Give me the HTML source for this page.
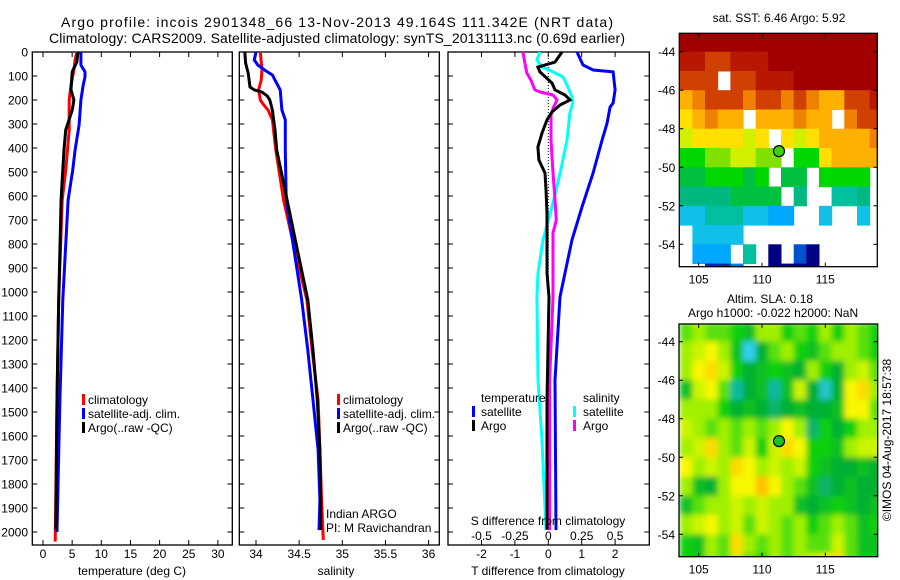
<!DOCTYPE html>
<html><head><meta charset="utf-8"><style>
body{margin:0;background:#fff}
svg{display:block;font-family:"Liberation Sans",sans-serif}
text{fill:#000}
</style></head><body>
<svg id="c" width="900" height="580" viewBox="0 0 900 580">
<defs>
<clipPath id="clipTop"><rect x="679.3" y="33.3" width="198" height="233.4"/></clipPath>
<clipPath id="clipBot"><rect x="679" y="324" width="198.7" height="232.7"/></clipPath>
<filter id="blur" x="-10%" y="-10%" width="120%" height="120%"><feGaussianBlur stdDeviation="3"/></filter>
</defs>
<text x="61" y="27" font-size="14" textLength="552">Argo profile: incois 2901348_66 13-Nov-2013 49.164S 111.342E (NRT data)</text>
<text x="49" y="43" font-size="14" textLength="576">Climatology: CARS2009. Satellite-adjusted climatology: synTS_20131113.nc (0.69d earlier)</text>
<g id="plots"></g>
</svg>
<script>
// ---------- data ----------
const tClimDepth = [0,33,75,138,200,325,492,617,1033,1450,2040];
const tClimVal   = [5.8,5.5,5.3,4.8,4.5,4.5,3.9,3.3,2.7,2.4,2.1];
const tSatDepth  = [0,54,83,104,138,200,304,408,492,617,1033,1450,2000];
const tSatVal    = [6.5,6.5,7.2,7.2,6.9,6.5,6.2,5.5,5.1,4.3,3.4,2.9,2.4];
const tArgoDepth = [0,42,67,83,158,200,242,325,408,533,617,1033,1450,1990];
const tArgoVal   = [6.0,5.8,5.3,5.0,4.8,5.3,5.0,3.9,3.6,3.3,3.1,2.7,2.4,2.2];
const sClimDepth = [0,75,117,158,200,221,242,283,408,617,825,1033,1242,1450,1658,1867,2033];
const sClimVal   = [34.05,34.07,34.06,34.03,34.05,34.09,34.14,34.19,34.23,34.32,34.45,34.59,34.65,34.72,34.74,34.76,34.78];
const sSatDepth  = [0,33,54,75,96,117,158,242,283,408,617,825,1033,1242,1450,1658,1867,1992];
const sSatVal    = [34.00,33.98,34.02,34.10,34.19,34.22,34.28,34.30,34.34,34.34,34.35,34.44,34.53,34.60,34.66,34.72,34.74,34.73];
const sArgoDepth = [0,46,88,146,158,167,183,200,242,325,408,617,825,1033,1242,1450,1658,1867,1992];
const sArgoVal   = [33.87,33.88,33.91,33.93,33.98,34.07,34.13,34.16,34.19,34.22,34.24,34.36,34.48,34.60,34.66,34.71,34.74,34.75,34.75];
const dTSatDepth  = [0,54,75,83,158,213,229,296,367,504,646,783,921,1021,1367,1992];
const dTSatVal    = [0.86,1.04,1.34,1.94,2.0,1.94,1.85,1.76,1.61,1.34,1.01,0.71,0.5,0.35,0.2,0.23];
const dTArgoDepth = [0,42,63,83,129,158,179,200,221,250,283,338,396,450,504,575,671,783,921,1021,1450,1990];
const dTArgoVal   = [0.41,0.2,-0.31,-0.25,0.11,0.2,0.5,0.65,0.35,0.11,-0.04,-0.19,-0.31,-0.28,-0.1,-0.07,-0.04,-0.04,-0.04,0.02,-0.04,-0.04];
const dSSatDepth  = [0,33,63,83,104,146,188,208,254,367,504,646,783,921,1021,1367,1617,1992];
const dSSatVal    = [-0.062,-0.085,-0.047,0.035,0.11,0.147,0.177,0.185,0.162,0.14,0.088,0.028,-0.04,-0.077,-0.085,-0.077,-0.047,-0.017];
const dSArgoDepth = [0,63,88,117,158,167,179,200,229,263,367,504,617,700,754,1021,1367,1992];
const dSArgoVal   = [-0.19,-0.17,-0.16,-0.13,-0.10,-0.06,0.035,0.065,0.04,0.02,0.02,0.035,0.05,0.06,0.035,0.035,0.01,0.01];
const depthTicks = [0,100,200,300,400,500,600,700,800,900,1000,1100,1200,1300,1400,1500,1600,1700,1800,1900,2000];
const tempTicks = [0,5,10,15,20,25,30];
const salTicks = [34,34.5,35,35.5,36];
const dTTicks = [-2,-1,0,1,2];
const dSTickLabels = ["-0.5","-0.25","0","0.25","0.5"];
const dSTicks = [-0.5,-0.25,0,0.25,0.5];
const sstLats = [-43,-44,-45,-46,-47,-48,-49,-50,-51,-52,-53,-54,-55];
const sstLons = [103.5,104.5,105.5,106.5,107.5,108.5,109.5,110.5,111.5,112.5,113.5,114.5,115.5,116.5,117.5,118.5];
const sstGrid = [
[10,10,10,10,10,10,10,10,10,10,10,10,10,10,10,10],
[9.5,9.5,9,9,9.5,9.5,9.5,10,10,10,10,10,10,10,10,10],
[9,9,9,null,9,9,9.5,9.5,9.5,10,10,10,10,10,10,10],
[8,8.5,9,9,9,8.5,9,9,8.5,9,8.5,8,8,9,9,9.5],
[7.5,8,8.5,8,8,null,8,8,8,8.5,8,8,null,8.5,9,9],
[7,7.5,7.5,7.5,7.5,7,7.5,null,7.5,7,7.5,8,8,8,8,8.5],
[6,6,6.5,6.5,7,7,6.5,6.5,null,6,6,7.5,8,8,8,8],
[5.5,5.5,6,6,6,5.5,6,null,5.5,5.5,null,6,6,6,6,null],
[5,5,5,5,5.5,5.5,5.5,5.5,null,5,null,null,4.5,4.5,5,null],
[4,4,4.5,4.5,4.5,4,4,3.5,3.5,null,null,4,null,null,4,null],
[null,4,4,4,4,null,null,null,null,null,null,null,null,null,null,null],
[null,3.5,3.5,3.5,null,4.5,null,1.5,null,2.5,1.5,null,null,null,null,null],
[null,null,2,2,3,null,null,1.5,1.5,1.5,1.5,null,null,null,null,null]];
const slaLats = [-43,-44,-45,-46,-47,-48,-49,-50,-51,-52,-53,-54,-55];
const slaLons = [103.5,104.5,105.5,106.5,107.5,108.5,109.5,110.5,111.5,112.5,113.5,114.5,115.5,116.5,117.5,118.5];
const slaGrid = [
[0.05,0.1,0.05,0.05,0,-0.05,0.1,0.1,0,0.05,0,0.1,0,0.1,0.05,0],
[0.1,0.15,0.2,0.1,-0.05,-0.3,-0.1,0.05,0.1,0,-0.05,0.05,0.1,0.1,0.05,0],
[0.1,0.2,0.25,0.15,0,-0.1,-0.05,0,-0.05,-0.1,0.1,0,-0.1,0.1,0.15,0.05],
[-0.05,0.15,0.2,0.05,-0.2,-0.1,-0.05,-0.2,-0.05,0.15,-0.1,-0.25,-0.1,0.2,0.25,0.1],
[0.1,0.1,0.1,0,-0.1,-0.05,-0.1,-0.15,-0.1,-0.05,-0.1,-0.1,-0.05,0.2,0.2,0.05],
[0.15,0.1,0.05,0.1,0.05,0.1,0.05,0.1,0.2,0.1,-0.15,0,-0.1,0,0.1,0.1],
[0.1,0.15,0.25,0.1,0.05,0.15,0,0.15,0.25,0.2,0,0,-0.05,0.1,0.15,0.15],
[0.2,0.1,0.15,0.1,0.25,0.2,0.1,0.15,0.1,0.15,0,-0.05,-0.1,-0.1,-0.05,-0.1],
[0.1,-0.05,-0.1,0.1,0.2,0.2,0.3,0.2,0.1,0.05,-0.05,-0.15,-0.1,-0.05,-0.1,-0.1],
[-0.05,0.05,0.1,0.1,0.15,0.1,0.15,0.1,0.1,-0.05,-0.1,-0.05,0,-0.05,-0.1,-0.05],
[0.1,0.15,0.2,0.1,0.15,0.05,0.15,0.1,0.05,0.1,0,0.05,0.1,0.05,-0.05,0],
[0,-0.05,0.1,0.05,0.25,0.1,0.05,0.1,0.05,0.1,0.05,0.05,0.15,0.05,-0.05,-0.05],
[0,0,0.1,0.05,0.15,0.05,0,0.1,0.05,0.1,0.15,0.2,0.25,0.05,0,0]];
const argoLon = 111.342, argoLat = -49.164;
const mapLonTicks = [105,110,115];
const mapLatTicks = [-44,-46,-48,-50,-52,-54];

// ---------- helpers ----------
const NS = "http://www.w3.org/2000/svg";
const root = document.getElementById('plots');
function mk(tag, attrs, parent){const e=document.createElementNS(NS,tag);for(const k in attrs)e.setAttribute(k,attrs[k]);(parent||root).appendChild(e);return e;}
const yD = d => 52 + d*0.24;
const xT = t => 43 + t*5.83;
const xS = s => 256 + (s-34)*86.3;
const xDT = t => 548.3 + t*33.4;
const xDS = s => 548.3 + s*133.6;
function line(depths, vals, xf, color, name){
  const pts = depths.map((d,i)=>xf(vals[i]).toFixed(1)+","+yD(d).toFixed(1)).join(" ");
  const p = mk('polyline',{points:pts,fill:'none',stroke:color,'stroke-width':3,'stroke-linejoin':'miter'});
  
  
}
function txt(x,y,s,size,anchor,name){
  const t = mk('text',{x:x,y:y,'font-size':size||12,'text-anchor':anchor||'start'});
  t.textContent = s;
  
  
  return t;
}
function panel(x0,x1,y0,y1,name){
  const r = mk('rect',{x:x0,y:y0,width:x1-x0,height:y1-y0,fill:'none',stroke:'#000','stroke-width':1.3});
  
  
  depthTicks.forEach(d=>{
    mk('line',{x1:x0,x2:x0+5,y1:yD(d),y2:yD(d),stroke:'#000'});
    mk('line',{x1:x1,x2:x1-5,y1:yD(d),y2:yD(d),stroke:'#000'});
  });
}
function xticks(vals,xf,y0,y1){
  vals.forEach(v=>{
    mk('line',{x1:xf(v),x2:xf(v),y1:y0,y2:y0+5,stroke:'#000'});
    mk('line',{x1:xf(v),x2:xf(v),y1:y1,y2:y1-5,stroke:'#000'});
  });
}
function legendBar(x,y,color,name){
  const r = mk('rect',{x:x,y:y-10,width:3,height:11,fill:color});
  
  
}

// ---------- panel 1 ----------
panel(32.3,232.3,52,545,'temperature-panel');
xticks(tempTicks,xT,52,545);
depthTicks.forEach(d=>txt(28,yD(d)+4.5,String(d),12,'end','depth-tick-label'));
tempTicks.forEach(t=>txt(xT(t),558,String(t),12,'middle','temperature-tick-label'));
txt(132,575,'temperature (deg C)',12,'middle','temperature-axis-title');
line(tClimDepth,tClimVal,xT,'#f00','temp-climatology-line');
line(tSatDepth,tSatVal,xT,'#00f','temp-satellite-line');
line(tArgoDepth,tArgoVal,xT,'#000','temp-argo-line');
legendBar(82,404,'#f00','legend-climatology-swatch'); txt(88,404,'climatology',12,'start','legend-climatology');
legendBar(82,418,'#00f','legend-satellite-swatch'); txt(88,418,'satellite-adj. clim.',12,'start','legend-satellite');
legendBar(82,432,'#000','legend-argo-swatch'); txt(88,432,'Argo(..raw -QC)',12,'start','legend-argo');

// ---------- panel 2 ----------
panel(239.3,439.3,52,545,'salinity-panel');
xticks(salTicks,xS,52,545);
salTicks.forEach(s=>txt(xS(s),558,String(s),12,'middle','salinity-tick-label'));
txt(336,575,'salinity',12,'middle','salinity-axis-title');
line(sClimDepth,sClimVal,xS,'#f00','sal-climatology-line');
line(sSatDepth,sSatVal,xS,'#00f','sal-satellite-line');
line(sArgoDepth,sArgoVal,xS,'#000','sal-argo-line');
legendBar(337,404,'#f00','legend2-climatology-swatch'); txt(343,404,'climatology',12,'start','legend2-climatology');
legendBar(337,418,'#00f','legend2-satellite-swatch'); txt(343,418,'satellite-adj. clim.',12,'start','legend2-satellite');
legendBar(337,432,'#000','legend2-argo-swatch'); txt(343,432,'Argo(..raw -QC)',12,'start','legend2-argo');
txt(326,518,'Indian ARGO',12,'start','institution-label');
txt(326,532,'PI: M Ravichandran',12,'start','pi-label');

// ---------- panel 3 ----------
panel(448,649.3,52,545,'difference-panel');
xticks(dTTicks,xDT,52,545);
const zl = mk('line',{x1:548.3,x2:548.3,y1:52,y2:yD(2000),stroke:'#000','stroke-dasharray':'1,2'});


line(dSSatDepth,dSSatVal,xDS,'#0ff','sal-diff-satellite-line');
line(dSArgoDepth,dSArgoVal,xDS,'#f0f','sal-diff-argo-line');
line(dTArgoDepth,dTArgoVal,xDT,'#000','temp-diff-argo-line');
line(dTSatDepth,dTSatVal,xDT,'#00f','temp-diff-satellite-line');
dTTicks.forEach(t=>txt(xDT(t),558,String(t),12,'middle','t-diff-tick-label'));
dSTicks.forEach((s,i)=>txt(xDS(s),540,dSTickLabels[i],12,'middle','s-diff-tick-label'));
txt(548,525,'S difference from climatology',12,'middle','s-diff-axis-title');
txt(548,575,'T difference from climatology',12,'middle','t-diff-axis-title');
txt(481,402,'temperature',12,'start','legend3-temperature-heading');
txt(583,402,'salinity',12,'start','legend3-salinity-heading');
legendBar(472,416,'#00f','legend3-tsat-swatch'); txt(481,416,'satellite',12,'start','legend3-tsat');
legendBar(472,430,'#000','legend3-targo-swatch'); txt(481,430,'Argo',12,'start','legend3-targo');
legendBar(573,416,'#0ff','legend3-ssat-swatch'); txt(583,416,'satellite',12,'start','legend3-ssat');
legendBar(573,430,'#f0f','legend3-sargo-swatch'); txt(583,430,'Argo',12,'start','legend3-sargo');

// ---------- maps ----------
function hex(h){return [parseInt(h.substr(1,2),16),parseInt(h.substr(3,2),16),parseInt(h.substr(5,2),16)];}
function colorOf(stops,v){
  let c;
  if(v<=stops[0][0]) c=stops[0][1];
  else if(v>=stops[stops.length-1][0]) c=stops[stops.length-1][1];
  else for(let i=1;i<stops.length;i++){
    if(v<=stops[i][0]){
      const a=stops[i-1],b=stops[i],f=(v-a[0])/(b[0]-a[0]);
      c=a[1].map((x,k)=>Math.round(x+(b[1][k]-x)*f));
      break;
    }
  }
  return 'rgb('+c.join(',')+')';
}
const sstStops=[[1.5,'#000080'],[2.5,'#0050d0'],[3.5,'#00a8ff'],[4,'#10c0e8'],[4.5,'#00c0a0'],[5,'#00b880'],[5.5,'#00c040'],[6,'#00d800'],[6.5,'#80e000'],[7,'#d0f000'],[7.5,'#ffe000'],[8,'#ffb000'],[8.5,'#f08000'],[9,'#d04000'],[9.5,'#b81800'],[10,'#a00000']].map(s=>[s[0],hex(s[1])]);
const slaStops=[[-0.3,'#30d0f0'],[-0.2,'#10b8a0'],[-0.1,'#00b030'],[0,'#10d010'],[0.1,'#a0f000'],[0.2,'#f8f800'],[0.3,'#ffc000']].map(s=>[s[0],hex(s[1])]);
function drawMap(opt){
  const xL = lon => opt.x105 + (lon-105)*12.66;
  const yL = lat => opt.y44 + (-44-lat)*19.26;
  const g = mk('g',{'clip-path':'url(#'+opt.clip+')'});
  
  
  const inner = opt.blur ? mk('g',{filter:'url(#blur)'},g) : g;
  opt.grid.forEach((row,i)=>row.forEach((v,j)=>{
    if(v===null) return;
    const x0=xL(opt.lons[j]), y0=yL(opt.lats[i]);
    const r = mk('rect',{x:x0.toFixed(1),y:y0.toFixed(1),width:(12.66+0.5).toFixed(1),height:(19.26+0.5).toFixed(1),fill:colorOf(opt.stops,v)},inner);
    
    
  }));
  const b = mk('rect',{x:opt.x0,y:opt.y0,width:opt.x1-opt.x0,height:opt.y1-opt.y0,fill:'none',stroke:'#000','stroke-width':1.3});
  
  
  mapLonTicks.forEach(l=>{
    mk('line',{x1:xL(l),x2:xL(l),y1:opt.y0,y2:opt.y0+4,stroke:'#000'});
    mk('line',{x1:xL(l),x2:xL(l),y1:opt.y1,y2:opt.y1-4,stroke:'#000'});
    txt(xL(l),opt.y1+17,String(l),12,'middle',opt.name+'-lon-label');
  });
  mapLatTicks.forEach(l=>{
    mk('line',{x1:opt.x0,x2:opt.x0+4,y1:yL(l),y2:yL(l),stroke:'#000'});
    mk('line',{x1:opt.x1,x2:opt.x1-4,y1:yL(l),y2:yL(l),stroke:'#000'});
    txt(opt.x0-4,yL(l)+4.5,String(l),12,'end',opt.name+'-lat-label');
  });
  const m = mk('circle',{cx:xL(argoLon),cy:yL(argoLat),r:5.5,fill:opt.markerFill,stroke:'#000','stroke-width':1.2});
  
  
}
drawMap({name:'sst-map',grid:sstGrid,lats:sstLats,lons:sstLons,stops:sstStops,clip:'clipTop',blur:false,
  x0:679.3,x1:877.3,y0:33.3,y1:266.7,x105:698.7,y44:51.7,markerFill:'#40d010'});
drawMap({name:'sla-map',grid:slaGrid,lats:slaLats,lons:slaLons,stops:slaStops,clip:'clipBot',blur:true,
  x0:679,x1:877.7,y0:324,y1:556.7,x105:698.7,y44:341.7,markerFill:'#20c020'});
txt(779,22,'sat. SST: 6.46 Argo: 5.92',12,'middle','sst-map-title');
txt(727,303,'Altim. SLA: 0.18',12,'start','sla-value-label');
txt(688,317,'Argo h1000: -0.022 h2000: NaN',12,'start','steric-height-label');
const cr = txt(0,0,'\u00A9IMOS 04-Aug-2017 18:57:38',12,'middle','credit-timestamp');
cr.setAttribute('transform','translate(891,440) rotate(-90)');
</script>
</body></html>
